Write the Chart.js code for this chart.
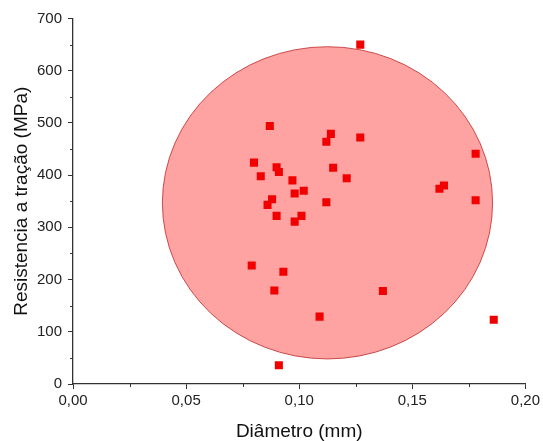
<!DOCTYPE html>
<html>
<head>
<meta charset="utf-8">
<script src="https://cdn.jsdelivr.net/npm/chart.js@4"></script>
<style>
  html, body { margin: 0; padding: 0; background: #fff; }
  #wrap { width: 543px; height: 441px; }
</style>
</head>
<body>
<div id="wrap"><canvas id="chart-area"></canvas></div>
<script>
// diametro (mm) x resistencia a tracao (MPa)
var diametro = [0.087, 0.114, 0.112, 0.127, 0.080, 0.090, 0.091, 0.083, 0.115, 0.121, 0.097,
                0.102, 0.098, 0.088, 0.086, 0.112, 0.090, 0.101, 0.098, 0.079, 0.093, 0.089,
                0.137, 0.109, 0.091, 0.127, 0.178, 0.164, 0.162, 0.178, 0.186];
var resistencia = [494, 479, 464, 472, 424, 415, 406, 398, 414, 394, 390,
                   370, 365, 354, 343, 348, 322, 322, 311, 227, 215, 179,
                   178, 129, 36, 650, 441, 380, 374, 352, 123];

// ellipse in data units: centre and half-axes
var elipseCentro = [0.1125, 347];
var elipseRaio = [0.073, 299];

var eixoX = [0, 0.2, 0.025];
var eixoY = [0, 700, 50];

var corEixo = '#333333';

function isMajorX(v) { return Math.round(v * 1000) % 50 === 0; }
function isMajorY(v) { return Math.round(v) % 100 === 0; }

var elipsePlugin = {
    id: 'elipse',
    beforeDatasetsDraw: function(chart) {
        var ctx = chart.ctx, x = chart.scales.x, y = chart.scales.y;
        var cx = x.getPixelForValue(elipseCentro[0]);
        var cy = y.getPixelForValue(elipseCentro[1]);
        var rx = x.getPixelForValue(elipseCentro[0] + elipseRaio[0]) - cx;
        var ry = cy - y.getPixelForValue(elipseCentro[1] + elipseRaio[1]);
        ctx.save();
        ctx.beginPath();
        ctx.ellipse(cx, cy, rx, ry, 0, 0, 2 * Math.PI);
        ctx.fillStyle = 'rgb(255,162,162)';
        ctx.fill();
        ctx.lineWidth = 1;
        ctx.strokeStyle = 'rgba(190,40,40,0.8)';
        ctx.stroke();
        ctx.restore();
    }
};

// short minor ticks (major ones come from the grid)
var minorTicks = {
    id: 'minorTicks',
    afterDraw: function(chart) {
        var ctx = chart.ctx, x = chart.scales.x, y = chart.scales.y;
        var area = chart.chartArea;
        ctx.save();
        ctx.strokeStyle = corEixo;
        ctx.lineWidth = 1;
        ctx.beginPath();
        x.ticks.forEach(function(t) {
            if (!isMajorX(t.value)) {
                var px = Math.round(x.getPixelForValue(t.value)) + 0.5;
                ctx.moveTo(px, area.bottom);
                ctx.lineTo(px, area.bottom + 3);
            }
        });
        y.ticks.forEach(function(t) {
            if (!isMajorY(t.value)) {
                var py = Math.round(y.getPixelForValue(t.value)) + 0.5;
                ctx.moveTo(area.left, py);
                ctx.lineTo(area.left - 3, py);
            }
        });
        ctx.stroke();
        ctx.restore();
    }
};

var pontos = diametro.map(function(d, i) { return { x: d, y: resistencia[i] }; });

var config = {
    type: 'scatter',
    data: {
        datasets: [{
            label: 'Resistencia',
            data: pontos,
            pointStyle: 'rect',
            pointRadius: 5.7,
            pointBorderWidth: 0,
            backgroundColor: '#f20000',
            borderColor: '#f20000'
        }]
    },
    options: {
        responsive: true,
        maintainAspectRatio: false,
        animation: false,
        layout: {
            padding: { left: 12, right: 17.5, top: 18.5, bottom: 0 }
        },
        plugins: {
            legend: { display: false },
            tooltip: { enabled: false }
        },
        scales: {
            x: {
                type: 'linear',
                min: eixoX[0],
                max: eixoX[1],
                border: { display: true, color: corEixo, width: 1.3 },
                grid: {
                    drawOnChartArea: false,
                    tickLength: 5,
                    tickColor: function(c) { return c.tick && isMajorX(c.tick.value) ? corEixo : 'rgba(0,0,0,0)'; }
                },
                ticks: {
                    stepSize: eixoX[2],
                    autoSkip: false,
                    maxRotation: 0,
                    padding: 3,
                    color: '#222',
                    font: { family: 'Liberation Sans, Arial', size: 15 },
                    callback: function(v) { return isMajorX(v) ? v.toFixed(2).replace('.', ',') : ''; }
                },
                title: {
                    display: true,
                    text: 'Diâmetro (mm)',
                    color: '#111',
                    padding: { top: 9, bottom: 0 },
                    font: { family: 'Liberation Sans, Arial', size: 19, lineHeight: 1 }
                }
            },
            y: {
                type: 'linear',
                min: eixoY[0],
                max: eixoY[1],
                border: { display: true, color: corEixo, width: 1.3 },
                grid: {
                    drawOnChartArea: false,
                    tickLength: 5,
                    tickColor: function(c) { return c.tick && isMajorY(c.tick.value) ? corEixo : 'rgba(0,0,0,0)'; }
                },
                ticks: {
                    stepSize: eixoY[2],
                    autoSkip: false,
                    padding: 6,
                    color: '#222',
                    font: { family: 'Liberation Sans, Arial', size: 15 },
                    callback: function(v) { return isMajorY(v) ? String(v) : ''; }
                },
                title: {
                    display: true,
                    text: 'Resistencia a tração (MPa)',
                    color: '#111',
                    padding: { top: 0, bottom: 0 },
                    font: { family: 'Liberation Sans, Arial', size: 19, lineHeight: 1 }
                }
            }
        }
    },
    plugins: [elipsePlugin, minorTicks]
};

window.onload = function() {
    var ctx = document.getElementById('chart-area').getContext('2d');
    window.scatterChart = new Chart(ctx, config);
};
</script>
</body>
</html>
